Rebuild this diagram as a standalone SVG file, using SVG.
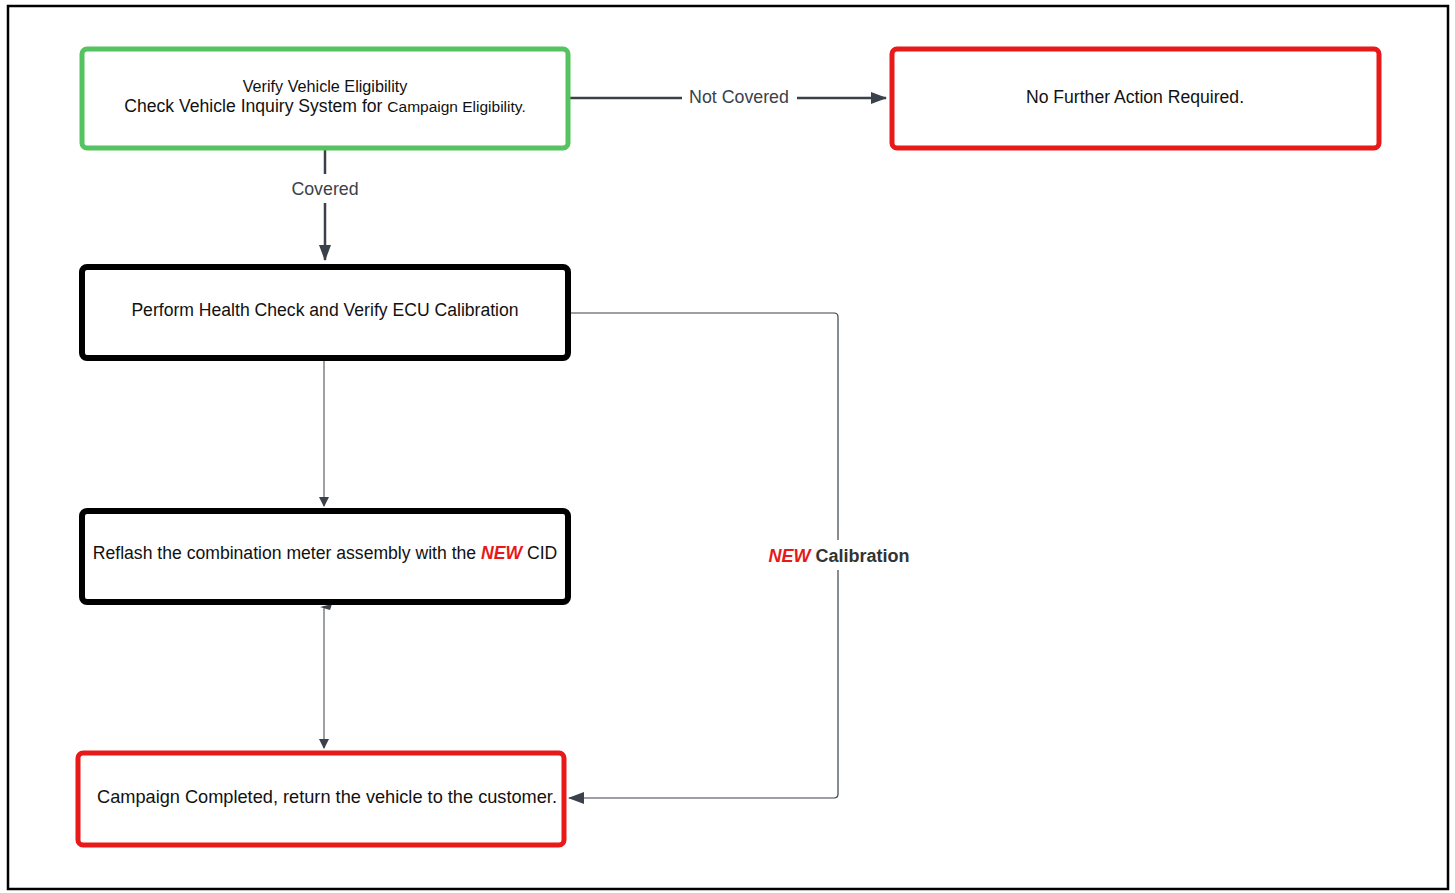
<svg xmlns="http://www.w3.org/2000/svg" width="1455" height="893" viewBox="0 0 1455 893">
<style>
.node{fill:#fff;}
.g{stroke:#55c35f;stroke-width:5;}
.r{stroke:#e81919;stroke-width:5;}
.k{stroke:#000;stroke-width:6;}
.t{font-family:"Liberation Sans",Arial,sans-serif;font-size:17.6px;fill:#111;text-anchor:middle;}
.lbl{font-family:"Liberation Sans",Arial,sans-serif;font-size:17.8px;fill:#3a414a;text-anchor:middle;}
.c{fill:none;stroke:#3a414a;}
</style>
<defs>
<marker id="ah" markerWidth="10" markerHeight="10" refX="9" refY="5" orient="auto" markerUnits="userSpaceOnUse">
<path d="M0,0 L10,5 L0,10 Z" fill="#3a414a"/>
</marker>
<marker id="ah2" markerWidth="16" markerHeight="12" refX="15" refY="6" orient="auto" markerUnits="userSpaceOnUse">
<path d="M0,0 L16,6 L0,12 Z" fill="#3a414a"/>
</marker>
</defs>
<rect x="0" y="0" width="1455" height="893" fill="#fff"/>
<rect x="8" y="6" width="1440" height="883" fill="none" stroke="#000" stroke-width="2.5"/>
<g id="connectors">
<path class="c" d="M570,98 H682 M797,98 H886" stroke-width="2.5" marker-end="url(#ah2)"/>
<text class="lbl" x="739" y="103">Not Covered</text>
<path class="c" d="M325,150 V174 M325,203 V260" stroke-width="2.5" marker-end="url(#ah2)"/>
<text class="lbl" x="325" y="195">Covered</text>
<path class="c" d="M324,361 V506" stroke-width="1" marker-end="url(#ah)"/>
<path class="c" d="M324,606 V748" stroke-width="1" marker-end="url(#ah)"/>
<path d="M320,607 L332,604 L330,610 Z" fill="#3a414a"/>
<path class="c" d="M571,313 H834 Q838,313 838,317 V794 Q838,798 834,798 H569" stroke-width="1.2" marker-end="url(#ah2)"/>
<rect x="760" y="540" width="156" height="30" fill="#fff"/>
<text x="839" y="562" font-family="'Liberation Sans',Arial,sans-serif" font-size="18" font-weight="bold" text-anchor="middle" fill="#333"><tspan fill="#e81919" font-style="italic">NEW</tspan> Calibration</text>
</g>
<g id="n1">
<rect class="node g" x="82" y="49" width="486" height="99" rx="5"/>
<text class="t" x="325" y="92" style="font-size:16.2px">Verify Vehicle Eligibility</text>
<text class="t" x="325" y="112">Check Vehicle Inquiry System for <tspan font-size="15.5">Campaign Eligibility.</tspan></text>
</g>
<g id="n2">
<rect class="node r" x="892" y="49" width="487" height="99" rx="5"/>
<text class="t" x="1135" y="103">No Further Action Required.</text>
</g>
<g id="n3">
<rect class="node k" x="82" y="267" width="486" height="91" rx="5"/>
<text class="t" x="325" y="316">Perform Health Check and Verify ECU Calibration</text>
</g>
<g id="n4">
<rect class="node k" x="82" y="511" width="486" height="91" rx="5"/>
<text class="t" x="325" y="559">Reflash the combination meter assembly with the <tspan fill="#e81919" font-weight="bold" font-style="italic">NEW</tspan> CID</text>
</g>
<g id="n5">
<rect class="node r" x="78" y="753" width="486" height="92" rx="5"/>
<text class="t" x="327" y="803" style="font-size:18.2px">Campaign Completed, return the vehicle to the customer.</text>
</g>
</svg>
